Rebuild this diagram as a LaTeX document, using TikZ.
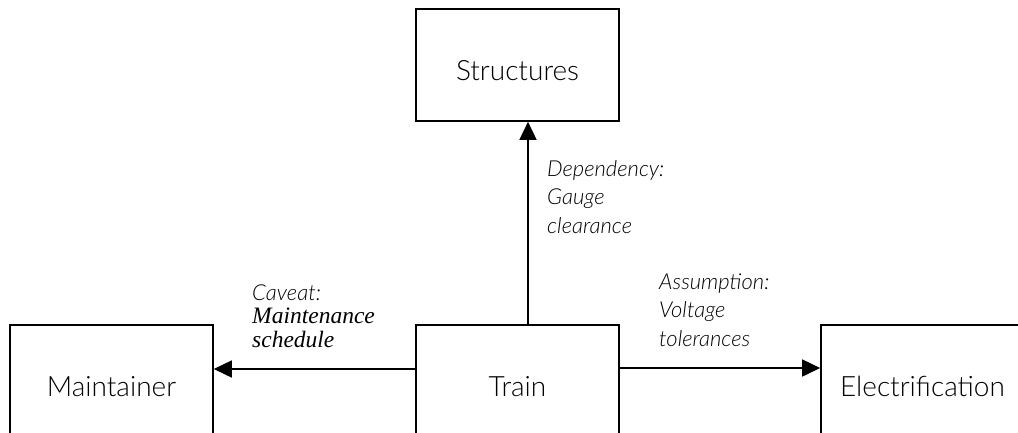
\documentclass[tikz,border=0pt]{standalone}
\usepackage{fontspec}
\usetikzlibrary{arrows.meta,calc}
\IfFontExistsTF{Lato Light}{\setmainfont{Lato Light}}{\setmainfont{Lato}}
\IfFontExistsTF{Lato Light Italic}{\newfontfamily\lblit{Lato Light Italic}}{\newcommand\lblit{\itshape}}
\newfontfamily\serifit{Liberation Serif}[UprightFont=*, ItalicFont=* Italic]
\tikzset{
  box/.style={draw, line width=1.6pt, rectangle, minimum width=203pt, minimum height=112pt,
    inner sep=0pt, text height=30pt, text depth=0pt, font=\fontsize{28}{32}\selectfont},
  arr/.style={line width=1.6pt, -{Triangle[length=18pt,width=17pt]}},
  lbl/.style={align=left, inner sep=0pt, anchor=base west,
    font=\fontsize{22}{28.5}\selectfont\lblit}
}
\begin{document}
\begin{tikzpicture}[x=1pt,y=-1pt]
\useasboundingbox (0,0) rectangle (1018,432);
\fill[white] (0,0) rectangle (1018,432);
\node[box] (s) at (517.5,65) {Structures};
\node[box] (t) at (517.5,381) {Train};
\node[box] (m) at (111.5,381) {Maintainer};
\node[box] (e) at (922.5,381) {Electrification};
\draw[arr] ([xshift=10.5pt]t.north) -- ([xshift=10.5pt]s.south);
\draw[arr] ([yshift=12pt]t.west) -- ([yshift=12pt]m.east);
\draw[arr] ([yshift=13pt]t.east) -- ([yshift=13pt]e.west);
\node[lbl] (ld) at (547,233) {Dependency:\\Gauge\\clearance};
\node[lbl] (la) at (659,346) {Assumption:\\Voltage\\tolerances};
\node[lbl, font=\fontsize{22}{23.5}\selectfont\lblit] (lc) at (252,347)
  {Caveat:\\{\serifit\itshape\fontsize{23.5}{23.5}\selectfont Maintenance}\\{\serifit\itshape\fontsize{23.5}{23.5}\selectfont schedule}};
\end{tikzpicture}
\end{document}
